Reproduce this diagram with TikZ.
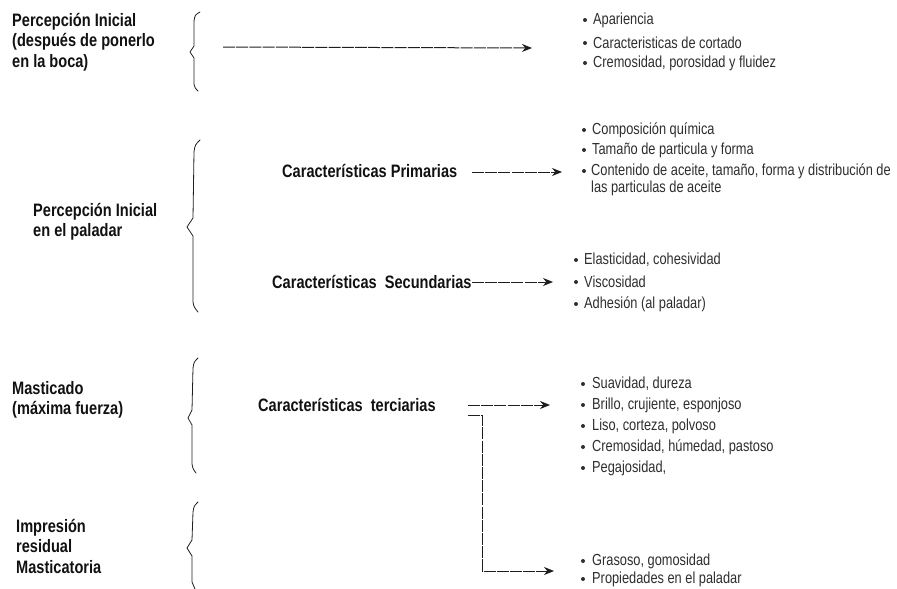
\documentclass[tikz,border=0pt]{standalone}
\usepackage{fontspec}
\setmainfont{Liberation Sans}
\newfontfamily\labfont[FakeStretch=0.81]{Liberation Sans}
\newfontfamily\itfont[FakeStretch=0.8]{Liberation Sans}
\usetikzlibrary{arrows.meta}
\definecolor{ink}{HTML}{111111}
\definecolor{gr}{HTML}{2E2E2E}
\definecolor{ln}{HTML}{1E1E1E}
\tikzset{
  lab/.style={anchor=west, inner sep=0pt, align=left, text=ink,
    font=\labfont\bfseries\fontsize{18}{20.5}\selectfont},
  mid/.style={anchor=west, inner sep=0pt, text=ink,
    font=\labfont\bfseries\fontsize{18}{20}\selectfont},
  itm/.style={anchor=west, inner sep=0pt, text=gr,
    font=\itfont\fontsize{16}{18}\selectfont},
  bul/.style={circle, fill=gr, inner sep=0pt, minimum size=4pt},
  brace/.style={draw=ln, line width=0.8pt, line join=round, line cap=round},
  arr/.style={draw=ln, line width=1pt, dash pattern=on 12pt off 1.2pt,
    -{Stealth[length=10pt,width=8pt]}},
}
\begin{document}
\begin{tikzpicture}[x=1pt,y=-1pt]
\useasboundingbox (0,0) rectangle (897,589);

% ---------- Group 1 ----------
\node[lab] (l1) at (12,42) {Percepción Inicial\\(después de ponerlo\\en la boca)};
\draw[brace] (200,12) .. controls (195,15) .. (194,21) -- (194,46) -- (190,52) -- (194,58) -- (194,84) .. controls (195,88) .. (198,91);
\coordinate (a1s) at (223,47);
\coordinate (a1e) at (532,48);
\draw[arr] (a1s) -- (a1e);
\node[bul] (b11) at (585,20) {};
\node[itm] (i11) at (593,20) {Apariencia};
\node[bul] (b12) at (585,43) {};
\node[itm] (i12) at (593,43) {Caracteristicas de cortado};
\node[bul] (b13) at (585,63) {};
\node[itm] (i13) at (593,63) {Cremosidad, porosidad y fluidez};

% ---------- Group 2 ----------
\node[lab] (l2) at (33,222) {Percepción Inicial\\en el paladar};
\draw[brace] (200,140) .. controls (195,145) .. (194,152) -- (193,218) -- (187,227) -- (193,236) -- (193,302) .. controls (194,307) .. (198,312);

\node[mid] (prim) at (282,171) {Características Primarias};
\coordinate (a2s) at (472,172);
\coordinate (a2e) at (562,172);
\draw[arr] (a2s) -- (a2e);
\node[bul] (b21) at (584,130) {};
\node[itm] (i21) at (592,130) {Composición química};
\node[bul] (b22) at (584,150) {};
\node[itm] (i22) at (592,150) {Tamaño de particula y forma};
\node[bul] (b23) at (584,171) {};
\node[itm] (i23) at (591,171) {Contenido de aceite, tamaño, forma y distribución de};
\node[itm] (i24) at (591,188) {las particulas de aceite};

\node[mid] (sec) at (272,282) {Características\ \ Secundarias};
\coordinate (a3s) at (sec.east);
\coordinate (a3e) at (553,282);
\draw[arr] (a3s) -- (a3e);
\node[bul] (b31) at (576,260) {};
\node[itm] (i31) at (584,260) {Elasticidad, cohesividad};
\node[bul] (b32) at (576,282) {};
\node[itm] (i32) at (584,282) {Viscosidad};
\node[bul] (b33) at (576,304) {};
\node[itm] (i33) at (584,304) {Adhesión (al paladar)};

% ---------- Group 3 ----------
\node[lab] (l3) at (12,400) {Masticado\\(máxima fuerza)};
\draw[brace] (198,358) .. controls (194,362) .. (193,368) -- (192,410) -- (188,418) -- (192,425) -- (192,464) .. controls (193,469) .. (196,473);

\node[mid] (ter) at (258,405) {Características\ \ terciarias};
\coordinate (a4s) at (468,405);
\coordinate (a4e) at (550,405);
\draw[arr] (a4s) -- (a4e);
\node[bul] (b41) at (583,384) {};
\node[itm] (i41) at (592,384) {Suavidad, dureza};
\node[bul] (b42) at (583,405) {};
\node[itm] (i42) at (592,405) {Brillo, crujiente, esponjoso};
\node[bul] (b43) at (583,426) {};
\node[itm] (i43) at (592,426) {Liso, corteza, polvoso};
\node[bul] (b44) at (583,447) {};
\node[itm] (i44) at (592,447) {Cremosidad, húmedad, pastoso};
\node[bul] (b45) at (583,468) {};
\node[itm] (i45) at (592,468) {Pegajosidad,};

\coordinate (c1) at (468,415);
\coordinate (c2) at (554,571);
\draw[arr] (c1) -- ++(14,0) |- (c2);

% ---------- Group 4 ----------
\node[lab] (l4) at (16,546) {Impresión\\residual\\Masticatoria};
\draw[brace] (198,502) .. controls (194,506) .. (193,512) -- (192,540) -- (187,548) -- (192,556) -- (192,582) .. controls (193,586) .. (195,589);
\node[bul] (b51) at (583,561) {};
\node[itm] (i51) at (592,561) {Grasoso, gomosidad};
\node[bul] (b52) at (583,579) {};
\node[itm] (i52) at (592,579) {Propiedades en el paladar};
\end{tikzpicture}
\end{document}
